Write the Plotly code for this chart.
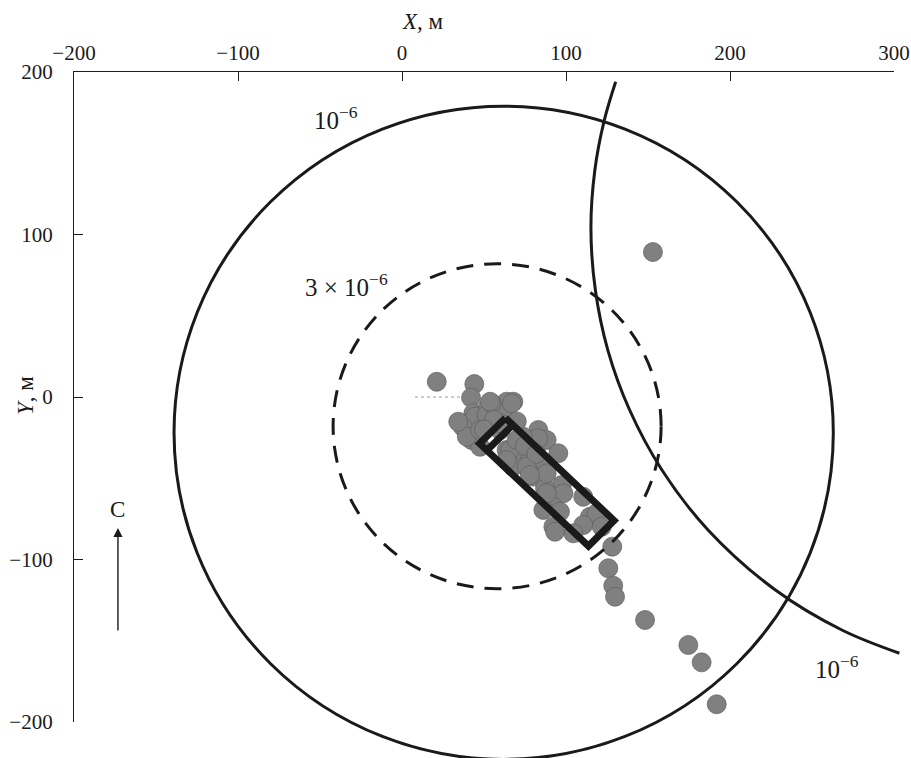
import plotly.graph_objects as go

# ---------------- data ----------------
tick_x = [-200, -100, 0, 100, 200, 300]
tick_y = [-200, -100, 0, 100, 200]
x_range = [-200, 300]
y_range = [-200, 200]

pts_x = [21.2, 44.1, 42.1, 43.5, 39.5, 52.6, 63.8, 67.9, 44.5, 51.6, 42.5, 47.6, 61.6, 37.2,
         54.7, 39.5, 47.6, 34.3, 66.9, 83.1, 88.2, 83.1, 95.3, 72.0, 78.0, 87.2, 80.1, 97.4,
         98.4, 87.2, 92.3, 86.2, 110.5, 114.6, 92.3, 67.7, 63.8, 73.8, 88.2, 88.2, 96.3, 118.7,
         110.5, 104.5, 93.3, 121.8, 128.2, 125.8, 128.8, 129.9, 148.2, 174.6, 182.7, 191.9,
         153.0, 65.9, 76.0, 63.8, 69.9, 59.8, 78.0, 59.8, 53.7, 56.0, 50.0, 70.0, 75.0, 82.0]
pts_y = [9.4, 8.0, -0.4, -10.0, -16.2, -6.0, -2.9, -2.9, -12.1, -11.1, -26.5, -30.6, -9.8, -18.5,
         -3.9, -24.4, -20.3, -15.2, -3.9, -20.3, -26.5, -25.4, -34.6, -34.6, -38.8, -40.8, -49.0, -54.2,
         -59.3, -56.2, -67.5, -69.5, -61.4, -73.7, -79.8, -42.9, -32.6, -24.4, -47.0, -59.3, -70.6, -71.6,
         -78.8, -83.9, -82.9, -79.8, -92.1, -105.4, -116.1, -122.9, -137.2, -152.6, -163.3, -189.1,
         89.2, -32.6, -42.9, -38.8, -26.5, -20.3, -48.0, -16.2, -2.9, -14.0, -20.0, -15.0, -30.0, -35.0]

# contour of 1e-6 from a second source (arc)
arc_x = [130.3, 123.4, 117.6, 115.2, 117.9, 125.5, 138.8, 158.5, 186.6, 227.7, 268.2, 303.3]
arc_y = [194.0, 170.5, 139.7, 104.0, 65.8, 28.9, -8.0, -44.9, -81.8, -118.8, -143.4, -157.7]

# circular contours
outer_center = (62, -22)
outer_radius = 201
inner_center = (58, -18)
inner_radius = 100

# rotated rectangle (installation) and its end bar
rect_x = [63.1, 129.3, 113.7, 47.3, 63.1]
rect_y = [-12.9, -76.0, -91.7, -28.6, -12.9]
bar_x = [67.6, 51.7]
bar_y = [-17.2, -32.9]

# dotted reference line
ref_x = [7.9, 36.6]
ref_y = [0, 0]

# north arrow
north_x = -173.2
north_y = [-144.6, -80.6]
north_label_y = -69.5

# ---------------- geometry ----------------
W, H = 911, 758
L, R, T, B = 74, 894, 72, 722
sx = (R - L) / (x_range[1] - x_range[0])
sy = (B - T) / (y_range[1] - y_range[0])
x2_range = [x_range[0] - L / sx, x_range[1] + (W - R) / sx]
y2_range = [y_range[0] - (H - B) / sy, y_range[1] + T / sy]

INK = '#1a1a1a'
FONT = 'Liberation Serif'

fig = go.Figure()

fig.add_trace(go.Scatter(x=ref_x, y=ref_y, mode='lines', xaxis='x', yaxis='y',
                         line=dict(color='#999999', width=1, dash='dot'),
                         showlegend=False, hoverinfo='skip'))

fig.add_trace(go.Scatter(x=pts_x, y=pts_y, mode='markers', xaxis='x2', yaxis='y2',
                         marker=dict(size=19, color='#808080',
                                     line=dict(color='#5e5e5e', width=0.7)),
                         showlegend=False))

fig.add_trace(go.Scatter(x=rect_x, y=rect_y, mode='lines', xaxis='x2', yaxis='y2',
                         line=dict(color=INK, width=7), showlegend=False))
fig.add_trace(go.Scatter(x=bar_x, y=bar_y, mode='lines', xaxis='x2', yaxis='y2',
                         line=dict(color=INK, width=7), showlegend=False))

fig.add_trace(go.Scatter(x=arc_x, y=arc_y, mode='lines', xaxis='x2', yaxis='y2',
                         line=dict(color=INK, width=3, shape='spline'), showlegend=False))

fig.add_shape(type='circle', xref='x2', yref='y2',
              x0=outer_center[0] - outer_radius, x1=outer_center[0] + outer_radius,
              y0=outer_center[1] - outer_radius, y1=outer_center[1] + outer_radius,
              line=dict(color=INK, width=3))
fig.add_shape(type='circle', xref='x2', yref='y2',
              x0=inner_center[0] - inner_radius, x1=inner_center[0] + inner_radius,
              y0=inner_center[1] - inner_radius, y1=inner_center[1] + inner_radius,
              line=dict(color=INK, width=3, dash='17px,11px'))

ann_font = dict(family=FONT, size=23, color=INK)
lab_font = dict(family=FONT, size=25, color=INK)
annotations = [
    dict(text='<i>X</i>, м', xref='paper', yref='paper', x=423 / W, y=1 - 22 / H,
         xanchor='center', yanchor='middle', showarrow=False, font=ann_font),
    dict(text='<i>Y</i>, м', xref='paper', yref='paper', x=25 / W, y=1 - 396 / H,
         xanchor='center', yanchor='middle', showarrow=False, font=ann_font, textangle=-90),
    dict(text='10<sup>−6</sup>', xref='x2', yref='y2', x=-55, y=171.7,
         xanchor='left', yanchor='middle', showarrow=False, font=lab_font),
    dict(text='3 × 10<sup>−6</sup>', xref='x2', yref='y2', x=-60.4, y=68.9,
         xanchor='left', yanchor='middle', showarrow=False, font=lab_font),
    dict(text='10<sup>−6</sup>', xref='x2', yref='y2', x=250.6, y=-166,
         xanchor='left', yanchor='middle', showarrow=False, font=lab_font),
    dict(text='С', xref='x2', yref='y2', x=north_x, y=north_label_y,
         xanchor='center', yanchor='middle', showarrow=False, font=ann_font),
    dict(text='', xref='x2', yref='y2', x=north_x, y=north_y[1],
         axref='x2', ayref='y2', ax=north_x, ay=north_y[0],
         showarrow=True, arrowhead=2, arrowsize=1.3, arrowwidth=1.4, arrowcolor=INK),
]

axis_common = dict(showgrid=False, zeroline=False, showline=True, linecolor=INK, linewidth=1.2,
                   ticks='inside', ticklen=9, tickwidth=1.2, tickcolor=INK, automargin=False,
                   ticklabeloverflow='allow',
                   tickfont=dict(family=FONT, size=21, color=INK))

fig.update_layout(
    width=W, height=H, autosize=False,
    margin=dict(l=0, r=0, t=0, b=0, pad=0, autoexpand=False),
    paper_bgcolor='white', plot_bgcolor='rgba(0,0,0,0)',
    showlegend=False,
    xaxis=dict(domain=[L / W, R / W], range=x_range, side='top', anchor='y',
               tickvals=tick_x, ticklabelstandoff=3, **axis_common),
    yaxis=dict(domain=[(H - B) / H, (H - T) / H], range=y_range, side='left', anchor='x',
               tickvals=tick_y, ticklabelstandoff=16, **axis_common),
    xaxis2=dict(domain=[0, 1], range=x2_range, anchor='y2', visible=False),
    yaxis2=dict(domain=[0, 1], range=y2_range, anchor='x2', visible=False),
    annotations=annotations,
)

fig.write_html('out.html')
